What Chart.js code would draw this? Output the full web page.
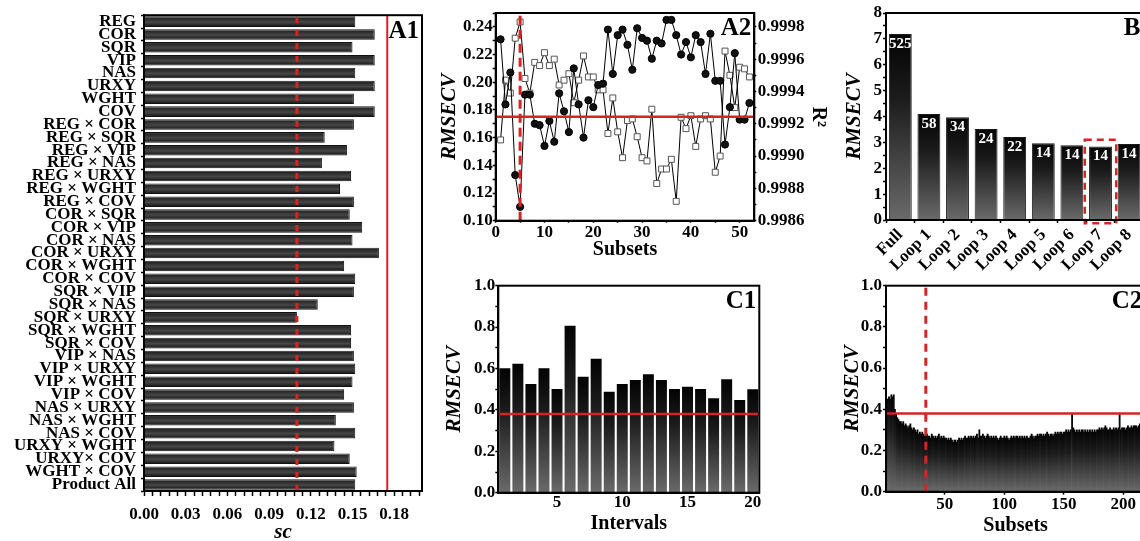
<!DOCTYPE html>
<html>
<head>
<meta charset="utf-8">
<script src="https://cdn.jsdelivr.net/npm/chart.js@4.4.1/dist/chart.umd.min.js"></script>
<style>
  html, body { margin: 0; padding: 0; background: #fff; overflow: hidden; }
  body { width: 1140px; height: 541px; position: relative; }
  canvas { position: absolute; }
</style>
</head>
<body>
<canvas id="a1" width="440" height="545" style="left:0px;top:0px"></canvas>
<canvas id="a2" width="400" height="270" style="left:430px;top:0px"></canvas>
<canvas id="b" width="380" height="275" style="left:780px;top:0px"></canvas>
<canvas id="c1" width="350" height="275" style="left:430px;top:270px"></canvas>
<canvas id="c2" width="380" height="275" style="left:780px;top:270px"></canvas>
<script>
// ---- A1: sc value of each preprocessing combination
const featureLabels = ['REG', 'COR', 'SQR', 'VIP', 'NAS', 'URXY', 'WGHT', 'COV',
  'REG × COR', 'REG × SQR', 'REG × VIP', 'REG × NAS', 'REG × URXY', 'REG × WGHT', 'REG × COV',
  'COR × SQR', 'COR × VIP', 'COR × NAS', 'COR × URXY', 'COR × WGHT', 'COR × COV',
  'SQR × VIP', 'SQR × NAS', 'SQR × URXY', 'SQR × WGHT', 'SQR × COV',
  'VIP × NAS', 'VIP × URXY', 'VIP × WGHT', 'VIP × COV',
  'NAS × URXY', 'NAS × WGHT', 'NAS × COV',
  'URXY × WGHT', 'URXY× COV', 'WGHT × COV', 'Product All'];
const featureSc = [0.152, 0.166, 0.150, 0.166, 0.152, 0.166, 0.151, 0.166,
  0.151, 0.130, 0.146, 0.128, 0.149, 0.141, 0.151,
  0.148, 0.157, 0.150, 0.169, 0.144, 0.152,
  0.151, 0.125, 0.110, 0.149, 0.149,
  0.151, 0.152, 0.150, 0.144,
  0.151, 0.138, 0.152,
  0.137, 0.148, 0.153, 0.152];
const a1XTicks = [0.00, 0.03, 0.06, 0.09, 0.12, 0.15, 0.18];
const a1Limit = 0.175;
const a1Cut = 0.11;

// ---- A2: RMSECV and R2 per subset
const subsets = [];
for (let i = 1; i <= 52; i++) subsets.push(i);
const a2Rmsecv = [0.231, 0.184, 0.207, 0.133, 0.110, 0.191, 0.191, 0.170, 0.169, 0.154,
  0.172, 0.157, 0.192, 0.179, 0.164, 0.210, 0.184, 0.160, 0.187, 0.182,
  0.198, 0.199, 0.238, 0.206, 0.234, 0.238, 0.227, 0.209, 0.239, 0.232,
  0.230, 0.217, 0.230, 0.228, 0.245, 0.245, 0.234, 0.220, 0.229, 0.218,
  0.234, 0.229, 0.206, 0.235, 0.201, 0.201, 0.155, 0.182, 0.221, 0.173,
  0.173, 0.185];
const a2R2 = [0.99910, 0.99947, 0.99939, 0.99973, 0.99983, 0.99948, 0.99939, 0.99958, 0.99956, 0.99964,
  0.99956, 0.99960, 0.99944, 0.99947, 0.99951, 0.99933, 0.99947, 0.99962, 0.99949, 0.99949,
  0.99941, 0.99941, 0.99914, 0.99936, 0.99915, 0.99899, 0.99922, 0.99923, 0.99912, 0.99899,
  0.99897, 0.99929, 0.99883, 0.99892, 0.99892, 0.99898, 0.99872, 0.99924, 0.99917, 0.99925,
  0.99906, 0.99923, 0.99925, 0.99923, 0.99890, 0.99900, 0.99965, 0.99950, 0.99930, 0.99955,
  0.99954, 0.99949];
const a2XTicks = [0, 10, 20, 30, 40, 50];
const a2YTicks = [0.10, 0.12, 0.14, 0.16, 0.18, 0.20, 0.22, 0.24];
const a2R2Ticks = [0.9986, 0.9988, 0.9990, 0.9992, 0.9994, 0.9996, 0.9998];
const a2Limit = 0.175;
const a2Best = 5;

// ---- B: RMSECV per loop
const loopLabels = ['Full', 'Loop 1', 'Loop 2', 'Loop 3', 'Loop 4', 'Loop 5', 'Loop 6', 'Loop 7', 'Loop 8'];
const loopRmsecv = [7.19, 4.10, 3.97, 3.52, 3.21, 2.97, 2.89, 2.84, 2.94];
const loopCounts = [525, 58, 34, 24, 22, 14, 14, 14, 14];
const bYTicks = [0, 1, 2, 3, 4, 5, 6, 7, 8];
const bPick = 7;

// ---- C1: RMSECV per interval
const intervalLabels = [];
for (let i = 1; i <= 20; i++) intervalLabels.push(String(i));
const intervalRmsecv = [0.601, 0.623, 0.525, 0.601, 0.501, 0.807, 0.560, 0.647, 0.488, 0.525,
  0.544, 0.572, 0.544, 0.501, 0.512, 0.501, 0.456, 0.548, 0.448, 0.500];
const cYTicks = [0.0, 0.2, 0.4, 0.6, 0.8, 1.0];
const cLimit = 0.38;

// ---- C2: RMSECV per subset
const c2Rmsecv = [
  0.44, 0.45, 0.46, 0.45, 0.47, 0.46, 0.47, 0.40, 0.38, 0.36,
  0.35, 0.34, 0.34, 0.33, 0.34, 0.32, 0.33, 0.32, 0.31, 0.32,
  0.33, 0.31, 0.30, 0.31, 0.30, 0.29, 0.30, 0.28, 0.29, 0.28,
  0.29, 0.28, 0.27, 0.30, 0.28, 0.27, 0.27, 0.26, 0.28, 0.27,
  0.26, 0.27, 0.26, 0.27, 0.28, 0.26, 0.27, 0.26, 0.27, 0.26,
  0.26, 0.25, 0.26, 0.25, 0.26, 0.25, 0.24, 0.25, 0.25, 0.24,
  0.25, 0.26, 0.25, 0.26, 0.25, 0.26, 0.27, 0.26, 0.26, 0.27,
  0.26, 0.27, 0.26, 0.27, 0.26, 0.27, 0.28, 0.26, 0.30, 0.27,
  0.27, 0.28, 0.27, 0.26, 0.27, 0.28, 0.27, 0.26, 0.27, 0.26,
  0.27, 0.26, 0.27, 0.26, 0.25, 0.26, 0.27, 0.26, 0.26, 0.27,
  0.26, 0.27, 0.26, 0.25, 0.26, 0.27, 0.26, 0.27, 0.26, 0.27,
  0.27, 0.26, 0.27, 0.26, 0.27, 0.26, 0.27, 0.26, 0.27, 0.26,
  0.26, 0.27, 0.28, 0.27, 0.26, 0.27, 0.27, 0.28, 0.27, 0.28,
  0.28, 0.27, 0.28, 0.27, 0.28, 0.29, 0.28, 0.27, 0.28, 0.28,
  0.27, 0.28, 0.29, 0.28, 0.29, 0.28, 0.29, 0.29, 0.28, 0.29,
  0.29, 0.30, 0.29, 0.30, 0.29, 0.30, 0.38, 0.31, 0.30, 0.29,
  0.30, 0.29, 0.30, 0.29, 0.30, 0.30, 0.29, 0.30, 0.29, 0.30,
  0.29, 0.30, 0.29, 0.30, 0.29, 0.30, 0.29, 0.30, 0.30, 0.31,
  0.30, 0.31, 0.30, 0.31, 0.32, 0.31, 0.30, 0.30, 0.31, 0.30,
  0.30, 0.31, 0.30, 0.31, 0.30, 0.31, 0.38, 0.30, 0.31, 0.31,
  0.31, 0.30, 0.31, 0.32, 0.31, 0.31, 0.32, 0.31, 0.32, 0.32,
  0.32, 0.31, 0.32, 0.33, 0.32, 0.33, 0.32, 0.33];
const c2Labels = c2Rmsecv.map((v, i) => String(i + 1));
const c2Best = 34;

const RED = '#d42424';
const SERIF = '"Liberation Serif", "Times New Roman", serif';

Chart.defaults.font.family = SERIF;
Chart.defaults.font.weight = 'bold';
Chart.defaults.font.size = 17;
Chart.defaults.color = '#000';
Chart.defaults.animation = false;
Chart.defaults.responsive = false;
Chart.defaults.plugins.legend.display = false;
Chart.defaults.plugins.tooltip.enabled = false;

// ticks: majors get labels, minors are blank
function tickList(majors, sub, max) {
  const step = (majors[1] - majors[0]) / sub;
  const out = [];
  for (let k = 0; majors[0] + k * step <= max + step / 1000; k++) {
    out.push(+(majors[0] + k * step).toFixed(6));
  }
  return out;
}
function linTicks(majors, sub, max, digits) {
  const list = tickList(majors, sub, max);
  const tol = (majors[1] - majors[0]) / sub / 10;
  return {
    afterBuildTicks: s => { s.ticks = list.map(v => ({ value: v })); },
    callback: v => majors.some(m => Math.abs(m - v) < tol) ? v.toFixed(digits) : ''
  };
}

function gridStyle(len) {
  return { drawOnChartArea: false, drawTicks: len > 0, tickLength: len, tickColor: '#000', tickWidth: 1.5 };
}
const border = { color: '#000', width: 2 };

// gradient bars: black at top fading to grey at the base
function vGrad(c) {
  const chart = c.chart;
  const area = chart.chartArea;
  if (!area || typeof c.raw !== 'number') return '#333';
  const y = chart.scales.y.getPixelForValue(c.raw);
  const g = chart.ctx.createLinearGradient(0, y, 0, area.bottom);
  g.addColorStop(0, '#030303');
  g.addColorStop(0.35, '#1c1c1c');
  g.addColorStop(1, '#6a6a6a');
  return g;
}
function hGrad(c) {
  const chart = c.chart;
  if (!chart.chartArea || typeof c.raw !== 'number') return '#444';
  const y = chart.scales.y.getPixelForValue(c.dataIndex);
  const g = chart.ctx.createLinearGradient(0, y - 5.5, 0, y + 5.5);
  g.addColorStop(0, '#7a7a7a');
  g.addColorStop(0.18, '#262626');
  g.addColorStop(0.55, '#464646');
  g.addColorStop(1, '#101010');
  return g;
}

const framePlugin = {
  id: 'frame',
  afterDatasetsDraw(chart, args, opts) {
    const ctx = chart.ctx;
    const a = chart.chartArea;
    ctx.save();
    if (opts.values) {
      const meta = chart.getDatasetMeta(0);
      ctx.fillStyle = '#fff';
      ctx.font = 'bold 15px ' + SERIF;
      ctx.textAlign = 'center';
      ctx.textBaseline = 'middle';
      meta.data.forEach((bar, i) => ctx.fillText(String(opts.values[i]), bar.x, bar.y + 10));
    }
    (opts.lines || []).forEach(l => {
      const s = chart.scales[l.scale];
      ctx.strokeStyle = RED;
      ctx.lineWidth = l.width;
      ctx.setLineDash(l.dash || []);
      ctx.beginPath();
      if (s.isHorizontal()) {
        const x = s.getPixelForValue(l.value);
        ctx.moveTo(x, a.bottom);
        ctx.lineTo(x, a.top);
      } else {
        const y = s.getPixelForValue(l.value);
        ctx.moveTo(a.left, y);
        ctx.lineTo(a.right, y);
      }
      ctx.stroke();
    });
    if (opts.box) {
      const xs = chart.scales.x, ys = chart.scales.y;
      const cw = xs.getPixelForValue(1) - xs.getPixelForValue(0);
      const xc = xs.getPixelForValue(opts.box.index);
      const y1 = ys.getPixelForValue(opts.box.top);
      const y2 = ys.getPixelForValue(opts.box.bottom);
      ctx.strokeStyle = RED;
      ctx.lineWidth = 2.5;
      ctx.setLineDash([7, 5]);
      ctx.strokeRect(xc - cw * 0.55, y1, cw * 1.1, y2 - y1);
    }
    ctx.setLineDash([]);
    ctx.strokeStyle = '#000';
    ctx.lineWidth = 2;
    ctx.strokeRect(a.left, a.top, a.right - a.left, a.bottom - a.top);
    ctx.fillStyle = '#000';
    ctx.font = 'bold 25px ' + SERIF;
    ctx.textAlign = 'right';
    ctx.textBaseline = 'middle';
    ctx.fillText(opts.tag, a.right - 3, a.top + 16);
    ctx.restore();
  }
};

const italicTitle = (text, pad) => ({ display: true, text: text, font: { size: 21, style: 'italic' }, padding: pad });

// ---------- A1
const a1X = linTicks(a1XTicks, 5, 0.2, 2);
new Chart(document.getElementById('a1'), {
  type: 'bar',
  data: {
    labels: featureLabels,
    datasets: [{ data: featureSc, backgroundColor: hGrad, borderColor: '#111', borderWidth: 1,
      barPercentage: 0.82, categoryPercentage: 1 }]
  },
  options: {
    indexAxis: 'y',
    layout: { padding: { top: 13, right: 18, left: 0, bottom: 0 } },
    plugins: { frame: { tag: 'A1', lines: [
      { scale: 'x', value: a1Limit, width: 2 },
      { scale: 'x', value: a1Cut, width: 3, dash: [6, 7] }
    ] } },
    scales: {
      x: {
        min: 0, max: 0.2,
        afterBuildTicks: a1X.afterBuildTicks,
        ticks: { callback: a1X.callback, autoSkip: false, maxRotation: 0, minRotation: 0, padding: 8 },
        grid: gridStyle(5), border: border,
        title: { display: true, text: 'sc', font: { size: 21, style: 'italic' }, padding: 0 },
        afterFit: s => { s.height = 54; }
      },
      y: {
        ticks: { autoSkip: false, padding: 5 },
        grid: gridStyle(3), border: border,
        afterFit: s => { s.width = 144; }
      }
    }
  },
  plugins: [framePlugin]
});

// ---------- A2
const a2X = linTicks(a2XTicks, 2, 53, 0);
const a2Y = linTicks(a2YTicks, 2, 0.25, 2);
const r2Max = 0.9986 + 0.0012 * 0.15 / 0.14;
const a2Y2 = linTicks(a2R2Ticks, 2, r2Max, 4);
new Chart(document.getElementById('a2'), {
  type: 'line',
  data: {
    datasets: [
      { data: subsets.map((s, i) => ({ x: s, y: a2Rmsecv[i] })), yAxisID: 'y',
        borderColor: '#000', borderWidth: 1, pointStyle: 'circle', pointRadius: 3.6,
        pointBackgroundColor: '#111', pointBorderColor: '#000', pointBorderWidth: 1 },
      { data: subsets.map((s, i) => ({ x: s, y: a2R2[i] })), yAxisID: 'y2',
        borderColor: '#000', borderWidth: 1, pointStyle: 'rect', pointRadius: 4.2,
        pointBackgroundColor: '#fff', pointBorderColor: '#555', pointBorderWidth: 1 }
    ]
  },
  options: {
    layout: { padding: { top: 13, right: 0, left: 0, bottom: 0 } },
    plugins: { frame: { tag: 'A2', lines: [
      { scale: 'y', value: a2Limit, width: 2.5 },
      { scale: 'x', value: a2Best, width: 3, dash: [9, 5] }
    ] } },
    scales: {
      x: {
        type: 'linear', min: 0, max: 53,
        afterBuildTicks: a2X.afterBuildTicks,
        ticks: { callback: a2X.callback, autoSkip: false, maxRotation: 0, padding: 0 },
        grid: gridStyle(2), border: border,
        title: { display: true, text: 'Subsets', font: { size: 20 }, padding: { top: 0, bottom: 8 } },
        afterFit: s => { s.height = 49.3; }
      },
      y: {
        min: 0.10, max: 0.25,
        afterBuildTicks: a2Y.afterBuildTicks,
        ticks: { callback: a2Y.callback, autoSkip: false, padding: 0 },
        grid: gridStyle(3), border: border,
        title: italicTitle('RMSECV', { top: 7, bottom: 0 }),
        afterFit: s => { s.width = 65.7; }
      },
      y2: {
        position: 'right', min: 0.9986, max: r2Max,
        afterBuildTicks: a2Y2.afterBuildTicks,
        ticks: { callback: a2Y2.callback, autoSkip: false, padding: 1.5 },
        grid: gridStyle(2), border: border,
        title: { display: true, text: 'R²', font: { size: 20 }, padding: { top: 0, bottom: 0 } },
        afterFit: s => { s.width = 75.7; }
      }
    }
  },
  plugins: [framePlugin]
});

// ---------- B
const bY = linTicks(bYTicks, 2, 8, 0);
new Chart(document.getElementById('b'), {
  type: 'bar',
  data: {
    labels: loopLabels,
    datasets: [{ data: loopRmsecv, backgroundColor: vGrad, borderColor: '#1a1a1a', borderWidth: 1,
      barPercentage: 0.8, categoryPercentage: 1 }]
  },
  options: {
    layout: { padding: { top: 13, right: 16.6, left: 60, bottom: 0 } },
    plugins: { frame: { tag: 'B', values: loopCounts, box: { index: bPick, top: 3.1, bottom: -0.13 } } },
    scales: {
      x: {
        ticks: { autoSkip: false, minRotation: 45, maxRotation: 45, padding: 2 },
        grid: gridStyle(3), border: border,
        afterFit: s => { s.height = 55; }
      },
      y: {
        min: 0, max: 8,
        afterBuildTicks: bY.afterBuildTicks,
        ticks: { callback: bY.callback, autoSkip: false, padding: 1 },
        grid: gridStyle(3), border: border,
        title: italicTitle('RMSECV', { top: 2.4, bottom: 0 }),
        afterFit: s => { s.width = 46; }
      }
    }
  },
  plugins: [framePlugin]
});

// ---------- C1
const cY = linTicks(cYTicks, 2, 1, 1);
new Chart(document.getElementById('c1'), {
  type: 'bar',
  data: {
    labels: intervalLabels,
    datasets: [{ data: intervalRmsecv, backgroundColor: vGrad, borderWidth: 0,
      barPercentage: 0.84, categoryPercentage: 1 }]
  },
  options: {
    layout: { padding: { top: 15.7, right: 20.7, left: 10, bottom: 0 } },
    plugins: { frame: { tag: 'C1', lines: [{ scale: 'y', value: cLimit, width: 2.5 }] } },
    scales: {
      x: {
        ticks: { autoSkip: false, maxRotation: 0, minRotation: 0, padding: 0,
          callback: (v, i) => (i + 1) % 5 === 0 ? intervalLabels[i] : '' },
        grid: gridStyle(0), border: border,
        title: { display: true, text: 'Intervals', font: { size: 20 }, padding: { top: 0, bottom: 9 } },
        afterFit: s => { s.height = 52.3; }
      },
      y: {
        min: 0, max: 1,
        afterBuildTicks: cY.afterBuildTicks,
        ticks: { callback: cY.callback, autoSkip: false, padding: 0 },
        grid: gridStyle(3), border: border,
        title: italicTitle('RMSECV', { top: 2.4, bottom: 0 }),
        afterFit: s => { s.width = 58.3; }
      }
    }
  },
  plugins: [framePlugin]
});

// ---------- C2
const cY2 = linTicks(cYTicks, 2, 1, 1);
new Chart(document.getElementById('c2'), {
  type: 'bar',
  data: {
    labels: c2Labels,
    datasets: [{ data: c2Rmsecv, backgroundColor: vGrad, borderWidth: 0,
      barPercentage: 1, categoryPercentage: 1 }]
  },
  options: {
    layout: { padding: { top: 15.7, right: 14.8, left: 60, bottom: 0 } },
    plugins: { frame: { tag: 'C2', lines: [
      { scale: 'y', value: cLimit, width: 2.5 },
      { scale: 'x', value: c2Best - 1, width: 3, dash: [8, 6] }
    ] } },
    scales: {
      x: {
        ticks: { autoSkip: false, maxRotation: 0, minRotation: 0, padding: 0,
          callback: (v, i) => (i + 1) % 50 === 0 ? c2Labels[i] : '' },
        grid: Object.assign(gridStyle(3), { offset: false,
          tickColor: c => ((c.index + 1) % 50 === 0 ? '#000' : 'rgba(0,0,0,0)') }),
        border: border,
        title: { display: true, text: 'Subsets', font: { size: 20 }, padding: { top: 0, bottom: 7 } },
        afterFit: s => { s.height = 53.3; }
      },
      y: {
        min: 0, max: 1,
        afterBuildTicks: cY2.afterBuildTicks,
        ticks: { callback: cY2.callback, autoSkip: false, padding: 1 },
        grid: gridStyle(3), border: border,
        title: italicTitle('RMSECV', { top: 0, bottom: 0 }),
        afterFit: s => { s.width = 46; }
      }
    }
  },
  plugins: [framePlugin]
});
</script>
</body>
</html>
